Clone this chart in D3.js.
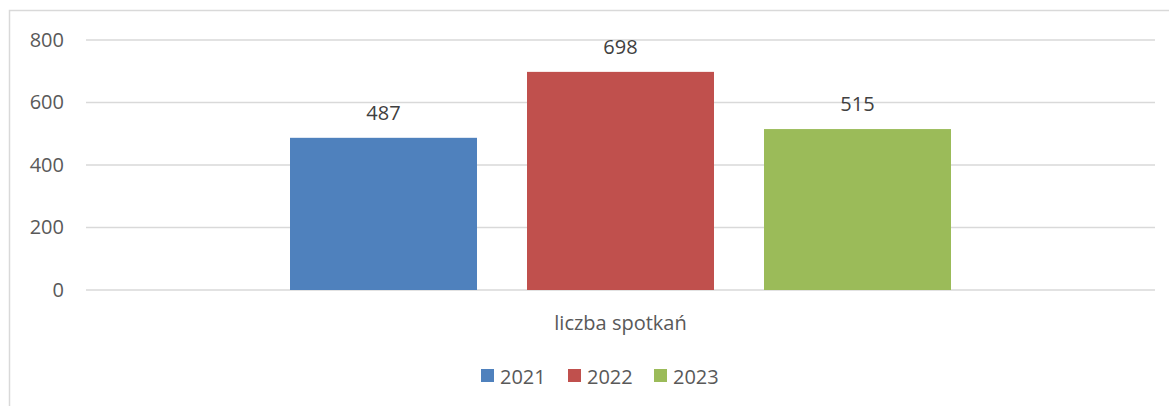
<!DOCTYPE html>
<html>
<head>
<meta charset="utf-8">
<script src="https://cdn.jsdelivr.net/npm/d3@7"></script>
<style>
	body { margin: 0; background: #fff; }
	text { font-family: "Open Sans", "Liberation Sans", Arial, sans-serif; fill: #595959; }
</style>
</head>
<body>
<div id="chart"></div>
<script>
'use strict'

// Dane wykresu
const categories = ['liczba spotkań'];
const years = ['2021', '2022', '2023'];
const values = [487, 698, 515];
const colors = ['#4F81BD', '#C0504D', '#9BBB59'];
const yTicks = [0, 200, 400, 600, 800];

const width = 1169;
const height = 406;
const font = '"Open Sans", "Liberation Sans", Arial, sans-serif';

const svg = d3.select('#chart')
	.append('svg')
	.attr('width', width)
	.attr('height', height);

// ramka wykresu
svg.append('rect')
	.attr('x', 9.5)
	.attr('y', 10.5)
	.attr('width', 1170)
	.attr('height', 410)
	.attr('fill', 'none')
	.attr('stroke', '#d9d9d9')
	.attr('stroke-width', 1.5);

const x0 = d3.scaleBand()
	.domain(categories)
	.range([86, 1155]);

const y = d3.scaleLinear()
	.domain([0, 800])
	.range([290, 40]);

// linie siatki
svg.append('g')
	.selectAll('line')
	.data(yTicks)
	.enter()
	.append('line')
		.attr('x1', 86)
		.attr('x2', 1155)
		.attr('y1', d => y(d))
		.attr('y2', d => y(d))
		.attr('stroke', '#d9d9d9')
		.attr('stroke-width', 1.5);

// oś Y
const yAxis = svg.append('g')
	.attr('transform', 'translate(64,0)')
	.call(d3.axisLeft(y).tickValues(yTicks).tickSize(0).tickPadding(0));
yAxis.select('.domain').remove();
yAxis.selectAll('text')
	.style('font-size', '20px')
	.style('font-family', font)
	.attr('fill', '#595959');

// słupki
const group = svg.append('g')
	.attr('transform', `translate(${x0(categories[0])},0)`);

const bw = 187;
const xBar = d3.scaleBand().domain(years).range([0, 3 * bw + 100]).paddingInner(50 / 237);

group.selectAll('rect')
	.data(values)
	.enter()
	.append('rect')
		.attr('x', (d, i) => 204 + xBar(years[i]))
		.attr('y', d => y(d))
		.attr('width', xBar.bandwidth())
		.attr('height', d => y(0) - y(d))
		.attr('fill', (d, i) => colors[i]);

group.selectAll('text.val')
	.data(values)
	.enter()
	.append('text')
		.attr('class', 'val')
		.attr('x', (d, i) => 204 + xBar(years[i]) + xBar.bandwidth() / 2)
		.attr('y', d => y(d) - 18)
		.attr('text-anchor', 'middle')
		.style('font-size', '20px')
		.style('fill', '#404040')
		.text(d => d);

// etykieta kategorii
svg.append('text')
	.attr('x', x0(categories[0]) + x0.bandwidth() / 2)
	.attr('y', 330)
	.attr('text-anchor', 'middle')
	.style('font-size', '20px')
	.text(categories[0]);

// legenda
const legendX = [481, 568, 654];
const legend = svg.append('g');
years.forEach((yr, i) => {
	legend.append('rect')
		.attr('x', legendX[i])
		.attr('y', 369)
		.attr('width', 13)
		.attr('height', 13)
		.attr('fill', colors[i]);
	legend.append('text')
		.attr('x', legendX[i] + 19)
		.attr('y', 384)
		.style('font-size', '20px')
		.text(yr);
});
</script>
</body>
</html>
